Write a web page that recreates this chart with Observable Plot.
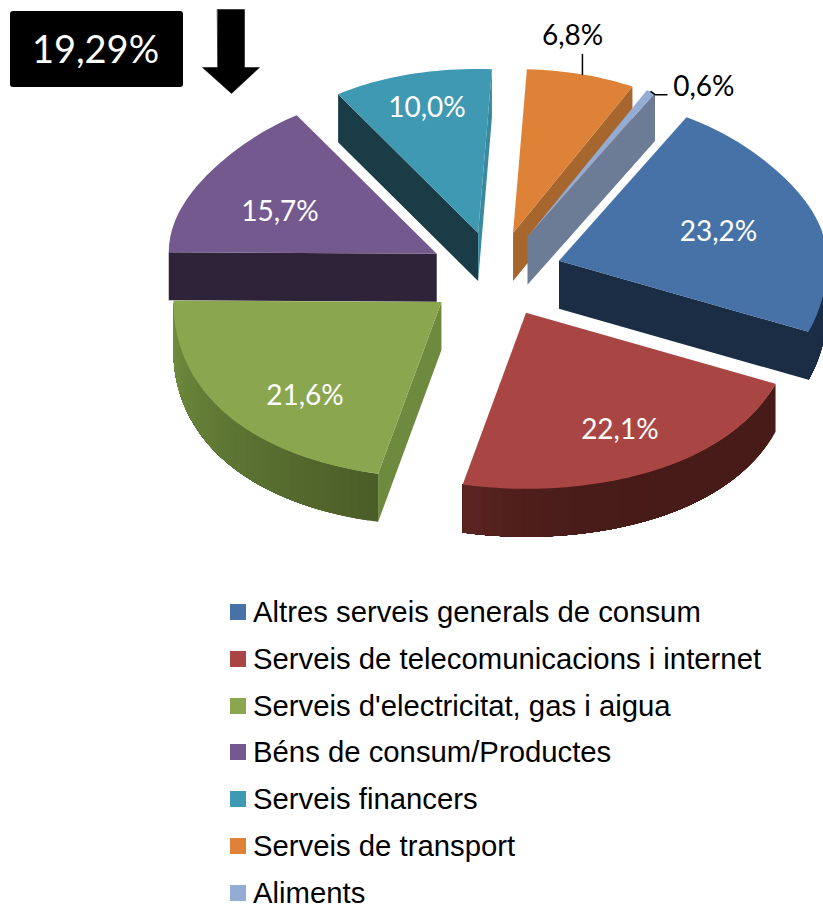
<!DOCTYPE html>
<html><head><meta charset="utf-8">
<script src="https://cdn.jsdelivr.net/npm/d3@7"></script>
<script src="https://cdn.jsdelivr.net/npm/@observablehq/plot@0.6"></script>
<style>
html,body{margin:0;padding:0;background:#fff;width:823px;height:909px;overflow:hidden}
#legend{position:relative;margin:0;padding:0 0 0 230px;font-family:"Liberation Sans",Arial,sans-serif;font-size:29.3px;line-height:26px;color:#000}
.row{height:26px;margin-bottom:20.75px;display:flex;align-items:center;white-space:nowrap}
.row:last-child{margin-bottom:0}
.sw{width:16px;height:16px;margin-right:7px;flex:none}
svg{display:block}
</style></head><body>
<div id="chart"></div>
<div id="legend"></div>
<script>
const categories = ["Altres serveis generals de consum","Serveis de telecomunicacions i internet","Serveis d'electricitat, gas i aigua","Béns de consum/Productes","Serveis financers","Serveis de transport","Aliments"];
const values = [23.2,22.1,21.6,15.7,10.0,6.8,0.6];
const labels = ["23,2%","22,1%","21,6%","15,7%","10,0%","6,8%","0,6%"];
const topColors = ["#4672a8","#a94643","#8aa64f","#74598f","#4099b2","#de8238","#94acd3"];
const wallColors = ["#1b2d45","#471b18","#6d8a3f","#2e2339","#1a3c47","#a6662e","#6c7c97"];
const endWallColors = ["#1b2d45","#471b18","#6d8a3f","#2e2339","#3a8a9f","#a6662e","#6c7c97"];
const rimFrom = ["#1b2d45","#471b18","#4c5d28","#2e2339","#1a3c47","#a6662e","#6c7c97"];
const rimTo = ["#1b2d45","#5c2522","#72903f","#2e2339","#1a3c47","#a6662e","#6c7c97"];
const rimEase = [1,6,1,1,1,1,1];
const explode = [1,1,1.03,1,1,1,1];
const labelColors = ["#fff","#fff","#fff","#fff","#fff","#000","#000"];
const labelDx = [-15,3,15,2,-3,11,90];
const labelDy = [10,7,16,15.5,-14,-86,-48];
const callout = "19,29%";

// 3D pie projection
const W = 823, H = 599;
const cx = 495, cy = 274, rx = 268, ryBack = 164, ryFront = 176, ex = 67, ey = 43, depth = 48, startAngle = 29.6, perspBack = 0.05, perspFront = 0.08;
const rad = d => d * Math.PI / 180;
const unit = (a) => [Math.sin(rad(a)), -Math.cos(rad(a))];
const ell = (a) => {
  const [s, c] = unit(a);
  const f = c < 0 ? 1 - perspBack * Math.pow(Math.sin(rad(2 * a)), 2) : 1 + perspFront * c * c;
  const yy = c < 0 ? -Math.pow(-c, 0.95) * ryBack : Math.pow(c, 0.97) * ryFront;
  return [rx * s * f, yy];
};

let acc = startAngle;
const slices = values.map((v, i) => {
  const a0 = acc, a1 = acc + v * 3.6; acc = a1;
  const mid = (a0 + a1) / 2;
  const [sm, cm] = unit(mid);
  const ax = cx + ex * explode[i] * sm, ay = cy + ey * explode[i] * cm;
  return {i, a0, a1, mid, ax, ay};
});
const pt = (s, a, d = 0) => { const [x, y] = ell(a); return [s.ax + x, s.ay + y + d]; };
const arc = (s, a, b, d = 0) => { const n = Math.max(2, Math.ceil(Math.abs(b - a) / 1.5)); return d3.range(n + 1).map(k => pt(s, a + (b - a) * k / n, d)); };

const polys = [];
const add = (pts, fill) => { const id = polys.length; polys.push({id, fill, pts}); };
const order = d3.range(slices.length).sort((a, b) => slices[a].ay - slices[b].ay);
for (const idx of order) {
  const s = slices[idx];
  const apex = [s.ax, s.ay], apexD = [s.ax, s.ay + depth];
  if (Math.sin(rad(s.a0)) < 0) add([apex, pt(s, s.a0), pt(s, s.a0, depth), apexD], wallColors[idx]);
  if (Math.sin(rad(s.a1)) > 0) add([apex, pt(s, s.a1), pt(s, s.a1, depth), apexD], endWallColors[idx]);
  const from = Math.max(s.a0, 90), to = Math.min(s.a1, 270);
  if (to > from) {
    const mix = d3.interpolateRgb(rimFrom[idx], rimTo[idx]);
    const n = Math.ceil((to - from) / 2);
    // each strip runs on to the end of the rim and the next one paints over it, so no seams show
    for (let k = 0; k < n; k++) {
      const a = from + (to - from) * k / n;
      add([...arc(s, a, to), ...arc(s, to, a, depth)], d3.color(mix(Math.pow((k + .5) / n, rimEase[idx]))).formatHex());
    }
  }
  add([apex, ...arc(s, s.a0, s.a1)], topColors[idx]);
}
const polyPts = polys.flatMap(p => p.pts.map(([x, y]) => ({x, y, id: p.id, fill: p.fill})));

const labelData = slices.map((s, i) => {
  const [x, y] = ell(s.mid);
  return {x: s.ax + .7 * x + labelDx[i], y: s.ay + .7 * y + labelDy[i], text: labels[i], color: labelColors[i]};
});

// leader lines for the two outside labels
const o = slices[5], l = slices[6];
const om = pt(o, o.mid), lm = pt(l, l.mid);
const leaders = [
  {id: 0, x: om[0], y: om[1]}, {id: 0, x: om[0], y: om[1] - 20},
  {id: 1, x: lm[0], y: lm[1]}, {id: 1, x: lm[0] + 4, y: lm[1] + 3}, {id: 1, x: lm[0] + 16, y: lm[1] + 3}
];

// callout arrow
const arrowX = 231;
const arrow = [[-14,9],[13,9],[13,67],[28,67],[0,93],[-29,67],[-14,67]].map(([x, y]) => ({x: arrowX + x, y}));

const plot = Plot.plot({
  width: W, height: H, margin: 0,
  x: {domain: [0, W], range: [0, W], axis: null},
  y: {domain: [0, H], range: [0, H], axis: null},
  color: {type: "identity"},
  marks: [
    Plot.line(polyPts, {x: "x", y: "y", z: "id", fill: "fill", stroke: null, strokeWidth: 0, curve: "linear-closed"}),
    Plot.line(leaders, {x: "x", y: "y", z: "id", stroke: "#000", strokeWidth: 1.5}),
    Plot.text(labelData, {x: "x", y: "y", text: "text", fill: "color", fontSize: 28, fontFamily: "Lato"}),
    Plot.rect([0], {x1: () => 10, x2: () => 183, y1: () => 11, y2: () => 87, fill: "#000", rx: 3}),
    Plot.text([callout], {x: () => 95, y: () => 50, text: d => d, fill: "#fff", fontSize: 38, fontFamily: "Lato"}),
    Plot.line(arrow, {x: "x", y: "y", fill: "#000", stroke: "#000", strokeWidth: 0.5, curve: "linear-closed"})
  ]
});
document.getElementById("chart").append(plot);
const lg = document.getElementById("legend");
categories.forEach((c, i) => {
  const r = document.createElement("div"); r.className = "row";
  const sw = document.createElement("span"); sw.className = "sw"; sw.style.background = topColors[i];
  const t = document.createElement("span"); t.textContent = c;
  r.append(sw, t); lg.append(r);
});
</script>
</body></html>
